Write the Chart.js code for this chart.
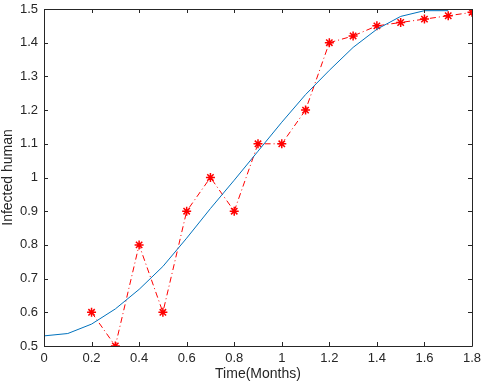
<!DOCTYPE html>
<html>
<head>
<meta charset="utf-8">
<script src="https://cdn.jsdelivr.net/npm/chart.js@4/dist/chart.umd.min.js"></script>
<style>
  html, body { margin: 0; padding: 0; background: #fff; }
  #wrap { width: 484px; height: 389px; position: relative; }
</style>
</head>
<body>
<div id="wrap"><canvas id="chart"></canvas></div>
<script>
// model curve (blue) and observed data (red)
const modelTime = [0, 0.1, 0.2, 0.3, 0.4, 0.5, 0.6, 0.7, 0.8, 0.9, 1.0, 1.1, 1.2, 1.3, 1.4, 1.5, 1.6, 1.7];
const modelInfected = [0.53, 0.537, 0.565, 0.61, 0.668, 0.736, 0.82, 0.908, 0.992, 1.078, 1.164, 1.246, 1.318, 1.386, 1.44, 1.478, 1.495, 1.495];
const dataTime = [0.2, 0.3, 0.4, 0.5, 0.6, 0.7, 0.8, 0.9, 1.0, 1.1, 1.2, 1.3, 1.4, 1.5, 1.6, 1.7, 1.8];
const dataInfected = [0.6, 0.5, 0.8, 0.6, 0.9, 1.0, 0.9, 1.1, 1.1, 1.2, 1.4, 1.42, 1.45, 1.46, 1.47, 1.48, 1.49];

const xTitle = 'Time(Months)';
const yTitle = 'Infected human';

const axisColor = '#262626';
const family = "'Liberation Sans', Arial, sans-serif";
const tickFont = { family: family, size: 13 };
const titleFont = { family: family, size: 14 };

// MATLAB style box with inward ticks
const boxPlugin = {
    id: 'box',
    afterDraw(chart) {
        const ctx = chart.ctx;
        const a = chart.chartArea;
        const xs = chart.scales.x, ys = chart.scales.y;
        ctx.save();
        ctx.strokeStyle = axisColor;
        ctx.lineWidth = 1;
        ctx.beginPath();
        ctx.rect(Math.round(a.left) + 0.5, Math.round(a.top) + 0.5,
                 Math.round(a.right - a.left), Math.round(a.bottom - a.top));
        ctx.stroke();
        ctx.beginPath();
        const len = 4;
        xs.ticks.forEach((t, i) => {
            const px = Math.round(xs.getPixelForTick(i)) + 0.5;
            ctx.moveTo(px, a.bottom); ctx.lineTo(px, a.bottom - len);
            ctx.moveTo(px, a.top); ctx.lineTo(px, a.top + len);
        });
        ys.ticks.forEach((t, i) => {
            const py = Math.round(ys.getPixelForTick(i)) + 0.5;
            ctx.moveTo(a.left, py); ctx.lineTo(a.left + len, py);
            ctx.moveTo(a.right, py); ctx.lineTo(a.right - len, py);
        });
        ctx.stroke();
        ctx.restore();
    }
};

const fmt = v => String(+Number(v).toFixed(2));

new Chart(document.getElementById('chart'), {
    type: 'scatter',
    data: {
        datasets: [
            {
                label: 'model',
                data: modelTime.map((t, i) => ({ x: t, y: modelInfected[i] })),
                showLine: true,
                borderColor: '#0072BD',
                borderWidth: 1,
                pointRadius: 0,
                fill: false
            },
            {
                label: 'data',
                data: dataTime.map((t, i) => ({ x: t, y: dataInfected[i] })),
                showLine: true,
                borderColor: '#ff0000',
                borderWidth: 1,
                borderDash: [6, 3, 1, 3],
                pointStyle: 'star',
                pointRadius: 4.5,
                pointBorderColor: '#ff0000',
                pointBorderWidth: 1.5,
                pointBackgroundColor: '#ff0000',
                fill: false
            }
        ]
    },
    options: {
        responsive: true,
        maintainAspectRatio: false,
        animation: false,
        layout: { padding: { top: 9, right: 12, left: 0, bottom: 0 } },
        plugins: { legend: { display: false }, tooltip: { enabled: false } },
        scales: {
            x: {
                type: 'linear',
                min: 0, max: 1.8,
                grid: { display: false, drawTicks: false },
                border: { display: false },
                ticks: { stepSize: 0.2, color: axisColor, font: tickFont, padding: 5, maxRotation: 0, callback: fmt },
                title: { display: true, text: xTitle, color: axisColor, font: titleFont, padding: { top: 0, bottom: 6 } },
                afterFit(scale) {
                    scale.height = 43;
                    scale.paddingLeft = 0;
                    scale.paddingRight = 0;
                }
            },
            y: {
                type: 'linear',
                min: 0.5, max: 1.5,
                grid: { display: false, drawTicks: false },
                border: { display: false },
                ticks: { stepSize: 0.1, color: axisColor, font: tickFont, padding: 6, callback: fmt },
                title: { display: true, text: yTitle, color: axisColor, font: titleFont, padding: { top: 0, bottom: 0 } },
                afterFit(scale) {
                    scale.width = 44;
                    scale.paddingTop = 0;
                    scale.paddingBottom = 0;
                }
            }
        }
    },
    plugins: [boxPlugin]
});
</script>
</body>
</html>
